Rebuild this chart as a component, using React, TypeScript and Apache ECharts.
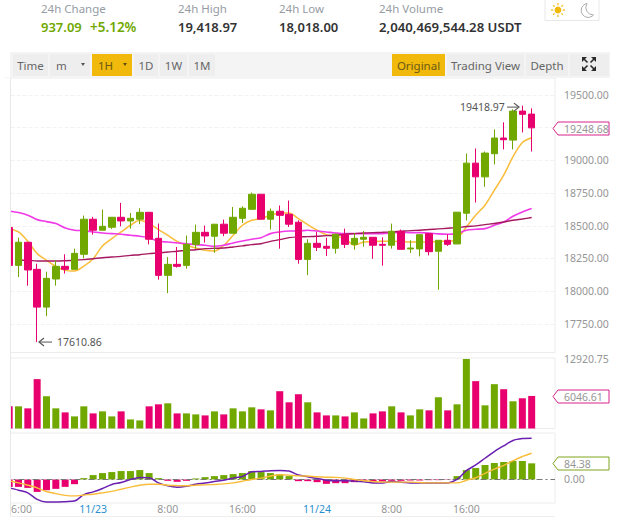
import React, { useEffect, useRef } from "react";
import * as echarts from "echarts";

const GREEN = "#70a800";
const RED = "#e8006f";
const FONT = '"Noto Sans"';

const opens = [18486,18197,18374,18167,17878,18093,18190,18167,18282,18550,18466,18489,18565,18537,18550,18603,18404,18121,18205,18197,18358,18450,18420,18512,18443,18557,18626,18741,18550,18611,18588,18527,18243,18366,18343,18328,18432,18358,18397,18412,18358,18351,18458,18323,18323,18440,18305,18389,18361,18596,18979,18874,19051,19171,19155,19377,19354];
const closes = [18197,18374,18162,17878,18098,18190,18167,18289,18550,18466,18496,18565,18537,18557,18603,18397,18121,18205,18190,18358,18450,18422,18512,18443,18565,18634,18741,18550,18611,18580,18512,18243,18366,18335,18328,18435,18358,18404,18412,18351,18351,18458,18320,18330,18432,18302,18389,18358,18604,18979,18874,19056,19171,19158,19377,19352,19248.68];
const lows = [18197,18108,18042,17610.86,17809,18042,18134,18167,18251,18432,18466,18476,18496,18478,18512,18358,18088,17985,18180,18172,18325,18371,18294,18420,18443,18522,18626,18550,18471,18325,18491,18210,18123,18307,18269,18287,18330,18317,18340,18248,18195,18325,18320,18292,18266,18274,18011,18346,18361,18540,18678,18798,18969,19084,19084,19214,19068];
const highs = [18486,18409,18374,18210,18149,18236,18282,18325,18578,18568,18624,18565,18675,18598,18634,18603,18517,18261,18338,18425,18509,18501,18512,18547,18644,18649,18754,18741,18632,18655,18693,18542,18397,18453,18409,18440,18478,18445,18460,18412,18412,18517,18471,18389,18432,18440,18389,18435,18604,19053,19091,19068,19237,19291,19390,19418.97,19398];

const ma7 = [18478,18453,18381,18287,18236,18190,18159,18154,18192,18248,18346,18402,18453,18504,18542,18517,18471,18427,18381,18351,18330,18312,18307,18351,18427,18504,18542,18555,18580,18598,18598,18555,18509,18466,18432,18420,18402,18351,18376,18379,18381,18381,18379,18376,18376,18376,18381,18381,18402,18491,18581,18657,18772,18887,19028,19137,19173];
const ma25 = [18611,18601,18581,18547,18532,18517,18483,18466,18463,18453,18445,18440,18435,18427,18420,18409,18381,18376,18369,18363,18356,18351,18343,18351,18369,18384,18397,18409,18440,18453,18460,18460,18466,18460,18453,18445,18440,18440,18440,18440,18440,18445,18450,18448,18448,18445,18438,18435,18440,18466,18473,18478,18504,18529,18573,18606,18632];
const ma99 = [null,18236,18236,18231,18231,18231,18233,18236,18241,18248,18256,18261,18266,18274,18279,18287,18292,18300,18305,18312,18317,18325,18328,18330,18338,18346,18356,18363,18381,18394,18409,18415,18417,18420,18425,18427,18435,18440,18445,18448,18450,18453,18458,18463,18466,18471,18476,18481,18486,18494,18499,18509,18517,18529,18542,18552,18563];

const volumes = [4120,4120,3745,9176,5992,3745,2996,2247,4120,2809,3183,2247,3183,1685,1498,4120,4494,4681,2809,2809,2622,2434,3183,2622,3745,3183,3932,3558,3371,6929,4869,6367,4869,2996,2434,2434,2247,2996,1873,2809,3183,4120,2996,2434,3558,3371,5805,3371,4494,12920.75,8801,4307,8239,7303,5056,5618,6046.61];

const macd = [-38.7,-38.7,-44,-65,-56,-49,-38.7,-24.6,7,22.9,33.4,38.7,44,44,49.2,33.4,7,-7,-12.3,-7,5.3,12.3,17.6,22.9,28.1,33.4,44,38.7,33.4,28.1,17.6,-8.8,-8.8,-14,-22.9,-19.3,-19.3,-14,-8.8,-14,-10.5,-7,-7,-5.3,-5.3,-3.5,-3.5,-1.8,17.6,49.2,59.8,75.6,86,91.4,96.7,96.7,84.38];
const dif = [-44,-56,-70,-104,-118,-118,-116,-113,-79,-65,-47,-26,-16,0,10.5,9,-18,-33,-40,-35,-25,-19,-11,-4,7,16,40,42,46,47.5,44,23,14,5,-4,-7,-7,-9,-12,-18,-19,-11,-14,-18,-19,-19,-19,-18,0,46,76,111,146,176,204,214,216];
const dea = [-7,-18,-30,-44,-63,-74,-83,-86,-81,-77,-70,-62,-51,-40,-30,-25,-25,-30,-32,-33,-30,-28,-26,-23,-18,-9,0,7,18,25,23,19,18,14,12,11,7,0,-7,-11,-14,-14,-14,-14,-16,-18,-18,-18,-18,-4,9,32,54,74,98,120,137];

// 57 hourly candles plus two empty slots on the right
const categories = ["15:00","16:00","17:00","18:00","19:00","20:00","21:00","22:00","23:00","11/23","1:00","2:00","3:00","4:00","5:00","6:00","7:00","8:00","9:00","10:00","11:00","12:00","13:00","14:00","15:00","16:00","17:00","18:00","19:00","20:00","21:00","22:00","23:00","11/24","1:00","2:00","3:00","4:00","5:00","6:00","7:00","8:00","9:00","10:00","11:00","12:00","13:00","14:00","15:00","16:00","17:00","18:00","19:00","20:00","21:00","22:00","23:00","",""];
const priceTicks = [17750,18000,18250,18500,18750,19000,19250,19500];
const labelledSlots = [1,9,17,25,33,41,49];

const headerLabels = ["24h Change","24h High","24h Low","24h Volume"];
const headerValues = ["19,418.97","18,018.00","2,040,469,544.28 USDT"];

const MOON = "M587 3.5 A7 7 0 1 0 593.5 15 A7.5 7.5 0 0 1 587 3.5 Z";

export default function App() {
  const ref = useRef<HTMLDivElement>(null);
  useEffect(() => {
    document.body.style.margin = "0";
    echarts.graphic.registerShape("moon", echarts.graphic.extendPath(MOON, {}));
    const chart = echarts.init(ref.current!, null, { renderer: "svg" });
    const grids = [
      { left: 4.5, width: 550.5, top: 78, height: 274.5 },
      { left: 4.5, width: 550.5, top: 358, height: 70.5 },
      { left: 4.5, width: 550.5, top: 433, height: 70 },
    ].map((g) => ({ ...g, show: true, backgroundColor: "transparent", borderColor: "#ececec", borderWidth: 1 }));
    const xAxisBase = {
      type: "category" as const,
      data: categories,
      boundaryGap: true,
      axisLine: { show: false },
      axisTick: { show: false },
      splitLine: { show: false },
    };
    const yLabel = { color: "#969696", fontSize: 10.5, fontFamily: FONT, margin: 9, inside: false };
    const line = (name: string, data: any[], color: string, xi: number, width = 1.4) => ({
      name, type: "line", data, xAxisIndex: xi, yAxisIndex: xi, showSymbol: false, smooth: 0.3, z: xi === 2 ? 5 : 1,
      connectNulls: false, lineStyle: { color, width }, itemStyle: { color },
    });
    const option: any = {
      animation: false,
      grid: grids,
      xAxis: [
        { ...xAxisBase, gridIndex: 0, axisLabel: { show: false } },
        { ...xAxisBase, gridIndex: 1, axisLabel: { show: false } },
        {
          ...xAxisBase, gridIndex: 2,
          axisLabel: {
            show: true, fontSize: 10.5, fontFamily: FONT, margin: 0, hideOverlap: false,
            interval: (i: number) => labelledSlots.includes(i),
            color: (v: string) => (v.includes("/") ? "#2a8fd0" : "#969696"),
          },
        },
      ],
      yAxis: [
        {
          type: "value", gridIndex: 0, position: "right", min: 17531, max: 19630, scale: true,
          axisLine: { show: false },
          axisTick: { show: false, customValues: priceTicks },
          axisLabel: { ...yLabel, customValues: priceTicks, formatter: (v: number) => v.toFixed(2) },
          splitLine: { show: true, lineStyle: { color: "#f2f2f2", type: "dashed" } },
        },
        {
          type: "value", gridIndex: 1, position: "right", min: 0, max: 13100,
          axisLine: { show: false },
          axisTick: { show: false, customValues: [12920.75] },
          axisLabel: { ...yLabel, customValues: [12920.75], formatter: (v: number) => v.toFixed(2) },
          splitLine: { show: false },
        },
        {
          type: "value", gridIndex: 2, position: "right", min: -123, max: 243,
          axisLine: { show: false },
          axisTick: { show: false, customValues: [0] },
          axisLabel: { ...yLabel, customValues: [0], formatter: (v: number) => v.toFixed(2) },
          splitLine: { show: false },
        },
      ],
      series: [
        line("MA7", ma7, "#f9bd3a", 0, 1.5),
        line("MA25", ma25, "#f03ae8", 0, 1.6),
        line("MA99", ma99, "#a5185f", 0, 1.4),
        {
          name: "Kline", type: "candlestick", xAxisIndex: 0, yAxisIndex: 0, barWidth: 7, z: 3,
          data: opens.map((o, i) => [o, closes[i], lows[i], highs[i]]),
          itemStyle: { color: GREEN, color0: RED, borderColor: GREEN, borderColor0: RED, borderWidth: 1 },
        },
        {
          name: "Volume", type: "bar", xAxisIndex: 1, yAxisIndex: 1, barWidth: 7,
          data: volumes.map((v, i) => ({ value: v, itemStyle: { color: closes[i] >= opens[i] ? GREEN : RED } })),
        },
        {
          name: "MACD", type: "bar", xAxisIndex: 2, yAxisIndex: 2, barWidth: 7,
          data: macd.map((v) => ({ value: v, itemStyle: { color: v >= 0 ? GREEN : RED } })),
          markLine: {
            silent: true, symbol: "none", label: { show: false },
            lineStyle: { color: "#777", type: [6, 3, 2, 3], width: 1 },
            data: [{ yAxis: 0 }],
          },
        },
        line("DIF", dif, "#6a1fb0", 2, 1.5),
        line("DEA", dea, "#f9bd3a", 2, 1.4),
      ],
    };
    chart.setOption(option);

    const Z = 100;
    const txt = (text: string, x: number, y: number, fill: string, size = 12, weight: any = 400, align = "left") => ({
      type: "text", x, y, z: Z + 2,
      style: { text, fill, font: `${weight} ${size}px ${FONT}`, textAlign: align, textVerticalAlign: "middle" },
    });
    const rect = (x: number, y: number, width: number, height: number, fill: string) => ({
      type: "rect", z: Z + 1, shape: { x, y, width, height }, style: { fill },
    });
    const seg = (x1: number, y1: number, x2: number, y2: number, stroke: string, lineWidth = 1) => ({
      type: "line", z: Z + 2, shape: { x1, y1, x2, y2 }, style: { stroke, lineWidth },
    });
    const tri = (points: number[][], fill: string) => ({ type: "polygon", z: Z + 2, shape: { points }, style: { fill } });
    const tag = (value: number, axis: number, color: string) => {
      const y = Math.round(chart.convertToPixel({ yAxisIndex: axis }, value)) + 0.5;
      return [
        {
          type: "polygon", z: Z + 1,
          shape: { points: [[553, y], [558, y - 6.5], [609, y - 6.5], [609, y + 6.5], [558, y + 6.5]] },
          style: { fill: "#fff", stroke: color, lineWidth: 1 },
        },
        txt(value.toFixed(2), 564, y, "#969696", 10.5),
      ];
    };
    const hiPx: number[] = chart.convertToPixel({ xAxisIndex: 0, yAxisIndex: 0 }, [55, 19418.97]) as any;
    const loPx: number[] = chart.convertToPixel({ xAxisIndex: 0, yAxisIndex: 0 }, [3, 17610.86]) as any;
    const hy = hiPx[1] + 1.5;
    const ly = loPx[1];
    const sunX = 558, sunY = 10;
    const rays: any[] = [];
    for (let k = 0; k < 8; k++) {
      const a = (k * Math.PI) / 4;
      rays.push(seg(sunX + 4.8 * Math.cos(a), sunY + 4.8 * Math.sin(a), sunX + 7 * Math.cos(a), sunY + 7 * Math.sin(a), "#f0b90b", 1.2));
    }
    const buttons: [string, number, number, boolean][] = [
      ["Time", 13, 48, false], ["m", 50, 90, false], ["1H", 92, 132, true], ["1D", 134, 158, false],
      ["1W", 160, 187, false], ["1M", 189, 215, false], ["Original", 392, 445, true],
      ["Trading View", 447, 524, false], ["Depth", 526, 568, false],
    ];
    const buttonEls: any[] = [];
    buttons.forEach(([t, a, b, on]) => {
      buttonEls.push(rect(a, 54, b - a, 22, on ? "#f0b90b" : "#eeeeee"));
      const centered = t !== "m" && t !== "1H";
      buttonEls.push(centered ? txt(t, (a + b) / 2, 65, on ? "#6b5a14" : "#666", 11.5, 400, "center") : txt(t, a + 6, 65, on ? "#6b5a14" : "#666", 11.5));
    });
    chart.setOption({
      graphic: [
        rect(0, 78, 10, 440, "#ffffff"),
        seg(10.5, 78, 10.5, 517, "#e8e8e8"),
        seg(10, 516.5, 555, 516.5, "#eeeeee"),
        rect(10, 52, 600, 26, "#f4f4f4"),
        ...buttonEls,
        rect(570, 54, 39, 22, "#eeeeee"),
        ...[[582, 57, 1, 1], [596, 57, -1, 1], [582, 71, 1, -1], [596, 71, -1, -1]].flatMap(([x, y, sx, sy]) => [
          tri([[x, y], [x + 5 * sx, y], [x, y + 5 * sy]], "#2b2b2b"),
          seg(x + 2 * sx, y + 2 * sy, x + 5.5 * sx, y + 5.5 * sy, "#2b2b2b", 1.6),
        ]),
        tri([[81, 63], [85, 63], [83, 66]], "#555"),
        tri([[123, 63], [127, 63], [125, 66]], "#5e4d10"),
        txt(headerLabels[0], 41, 8, "#969ca4", 11.5),
        txt(headerLabels[1], 178, 8, "#969ca4", 11.5),
        txt(headerLabels[2], 279, 8, "#969ca4", 11.5),
        txt(headerLabels[3], 379, 8, "#969ca4", 11.5),
        txt("937.09", 41, 27, GREEN, 13, 600),
        txt("+5.12%", 90, 27, GREEN, 13.5, 600),
        txt(headerValues[0], 178, 27, "#333333", 13, 600),
        txt(headerValues[1], 279, 27, "#333333", 13, 600),
        txt(headerValues[2], 379, 27, "#333333", 13.2, 600),
        { type: "polyline", z: Z, shape: { points: [[545, 0], [545, 20.5], [599, 20.5], [599, 0]] }, style: { stroke: "#e8e8e8", fill: "none", lineWidth: 1 } },
        { type: "circle", z: Z + 1, shape: { cx: sunX, cy: sunY, r: 3.4 }, style: { fill: "#f0b90b" } },
        ...rays,
        { type: "moon", z: Z + 1, x: 0, y: 0, style: { stroke: "#aaaaaa", fill: "none", lineWidth: 1 } },
        ...tag(19248.68, 0, "#d6238a"),
        ...tag(6046.61, 1, "#d6238a"),
        ...tag(84.38, 2, "#7fa51e"),
        txt("19418.97", 460, hy, "#555", 10.5),
        seg(507, hy, 518, hy, "#555"),
        { type: "polyline", z: Z + 2, shape: { points: [[514, hy - 4], [519, hy], [514, hy + 4]] }, style: { stroke: "#555", fill: "none", lineWidth: 1.2 } },
        txt("17610.86", 57, ly, "#555", 10.5),
        seg(40, ly, 52, ly, "#555"),
        { type: "polyline", z: Z + 2, shape: { points: [[44, ly - 4], [39, ly], [44, ly + 4]] }, style: { stroke: "#555", fill: "none", lineWidth: 1.2 } },
      ],
    });
    return () => chart.dispose();
  }, []);
  return <div ref={ref} style={{ position: "absolute", left: 0, top: 0, width: 619, height: 518 }} />;
}
